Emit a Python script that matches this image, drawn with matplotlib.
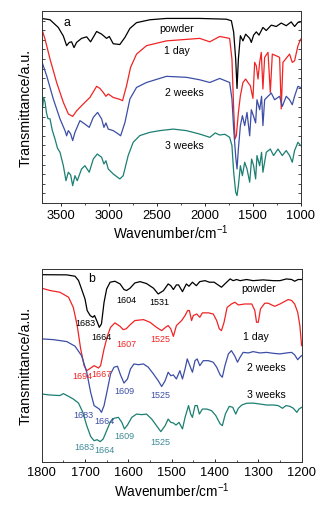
import matplotlib
matplotlib.use('Agg')
import matplotlib.pyplot as plt
from matplotlib.ticker import MultipleLocator, NullFormatter

plt.rcParams['font.family'] = ['Liberation Sans', 'DejaVu Sans']
plt.rcParams['mathtext.fontset'] = 'custom'
plt.rcParams['mathtext.rm'] = 'Liberation Sans'
plt.rcParams['mathtext.default'] = 'regular'

# ---- panel a: full range spectra (wavenumber, transmittance a.u.) ----
a_powder_x = [3700, 3613, 3527, 3474, 3440, 3412, 3388, 3363, 3336, 3284, 3231, 3190, 3127, 3075, 3023, 2995,
              2954, 2885, 2832, 2780, 2711, 2572, 2399, 2052, 1774, 1722, 1698, 1677, 1663, 1649, 1628, 1601,
              1573, 1531, 1514, 1490, 1462, 1434, 1393, 1358, 1306, 1254, 1202, 1150, 1098, 1063, 1028, 1000]
a_powder_y = [96.2, 95.5, 91.5, 87, 82, 83.7, 84, 81, 83.7, 85.8, 86.6, 84, 89.4, 88, 85.8, 86.8,
              83, 82.6, 86.3, 91, 94, 95.5, 96.2, 96.2, 95.8, 95, 89, 75, 59.7, 75, 87.2, 84.5,
              88, 85.8, 83.7, 87.5, 89.2, 87.5, 91.5, 89.9, 92.7, 92, 93.8, 92.4, 94.4, 92, 94.1, 94.4]

a_day_x = [3700, 3665, 3613, 3544, 3474, 3422, 3377, 3336, 3266, 3197, 3127, 3093, 3058, 3030, 3006, 2954,
           2885, 2857, 2815, 2773, 2711, 2607, 2399, 2052, 1947, 1844, 1740, 1716, 1698, 1684, 1670, 1649,
           1628, 1601, 1573, 1549, 1524, 1497, 1479, 1462, 1444, 1427, 1410, 1393, 1375, 1340, 1316, 1295,
           1254, 1219, 1202, 1184, 1115, 1087, 1063, 1028, 1000]
a_day_y = [91, 85.4, 75, 62.8, 52.4, 46.4, 45.1, 48, 51.6, 55, 60.8, 59.7, 57.6, 55.6, 56.8, 55,
           54, 53.3, 61.1, 70.7, 77.6, 82, 84.5, 85.8, 84, 86.8, 85.8, 75, 49, 33.3, 35.1, 47,
           55.9, 62.8, 64.6, 62.8, 61.1, 54.5, 73.3, 71.5, 64.6, 73.3, 78.5, 59.4, 75.9, 78.5, 57.6, 77.6,
           76.7, 75.9, 49, 73.3, 77.6, 73.3, 74.1, 81.9, 85.4]

a_2wk_x = [3700, 3648, 3579, 3509, 3457, 3440, 3422, 3398, 3377, 3353, 3301, 3249, 3204, 3162, 3117, 3075,
           3051, 3030, 3006, 2954, 2902, 2877, 2832, 2780, 2711, 2607, 2399, 2191, 2052, 1947, 1844, 1740,
           1716, 1698, 1677, 1663, 1649, 1628, 1607, 1583, 1559, 1531, 1514, 1490, 1469, 1455, 1427, 1407,
           1393, 1375, 1340, 1306, 1271, 1219, 1191, 1150, 1115, 1087, 1063, 1028, 1000]
a_2wk_y = [74, 66.3, 54.2, 43.8, 37.7, 35, 37.7, 36, 32.5, 36.8, 42.9, 41.1, 39.4, 44.6, 47.2, 43.8,
           39.4, 41.7, 38.5, 37.7, 36, 35, 41.9, 54.2, 60.2, 62.8, 66, 65.5, 64.2, 62.8, 64.9, 62.8,
           54.2, 38.5, 24.3, 17.7, 28.1, 40.3, 45.5, 40.3, 47.2, 35, 48.6, 45.1, 41.7, 53.8, 48.6, 55.6,
           40.3, 53.8, 55.6, 57.3, 53.8, 55.6, 50.3, 55.6, 53.8, 51.2, 55.6, 60.8, 60.2]

a_3wk_x = [3700, 3690, 3680, 3665, 3650, 3635, 3613, 3590, 3561, 3535, 3509, 3474, 3447, 3422, 3398, 3377,
           3353, 3329, 3284, 3249, 3204, 3162, 3120, 3075, 3051, 3030, 3006, 2954, 2885, 2850, 2798, 2746,
           2677, 2572, 2468, 2329, 2191, 2052, 1947, 1890, 1844, 1790, 1740, 1716, 1698, 1677, 1663, 1649,
           1628, 1607, 1583, 1559, 1531, 1511, 1490, 1469, 1455, 1427, 1407, 1393, 1358, 1316, 1282, 1236,
           1191, 1150, 1115, 1087, 1063, 1028, 1000]
a_3wk_y = [56, 50, 55, 52.5, 47, 44, 43.8, 38, 33.3, 28.5, 26.4, 19.4, 11.6, 16, 14.6, 9,
           14.2, 11.6, 17.7, 19.4, 16, 22.9, 25.5, 23.8, 20.3, 22, 17.7, 15.1, 12.5, 14.2, 24.7, 31.6,
           35.1, 36.8, 37.7, 38.5, 37.7, 35.9, 34.2, 36.5, 35.4, 35.8, 34.2, 29.9, 16, 5.6, 3.8, 9,
           19.4, 14.2, 21.2, 17.7, 10.8, 22.9, 19.4, 12.5, 24.7, 19.4, 26.4, 16, 26.4, 28.1, 24.7, 28.1,
           24.7, 27.3, 24.7, 21.2, 27.3, 31.6, 29.9]

# ---- panel b: 1800-1200 region ----
b_powder_x = [1800, 1742, 1723, 1715, 1708, 1700, 1695, 1688, 1682, 1678, 1673, 1667, 1662, 1656, 1650, 1642,
              1631, 1619, 1610, 1604, 1596, 1585, 1573, 1558, 1542, 1531, 1519, 1508, 1502, 1496, 1489, 1484,
              1475, 1466, 1460, 1452, 1443, 1435, 1423, 1413, 1402, 1385, 1373, 1365, 1358, 1350, 1342, 1327,
              1312, 1289, 1265, 1250, 1235, 1223, 1216, 1208, 1200]
b_powder_y = [97, 96.9, 96.2, 94, 89.6, 84.4, 78.4, 75.8, 74.9, 75.8, 73.2, 69.7, 71.5, 82.7, 89.6, 93.1,
              93.6, 92.2, 89.3, 88.8, 90, 92.7, 93.4, 92.4, 90, 87, 88.7, 92.2, 91.3, 89.3, 91.7, 91.7,
              88.2, 92.2, 91, 93.1, 91.3, 93.4, 93.9, 93.1, 93.1, 90.5, 93.1, 94.8, 93.9, 94.5, 93.9, 94.5,
              93.9, 94.3, 93.9, 93.9, 94.8, 94.5, 93.6, 94.5, 94.5]

b_day_x = [1800, 1781, 1758, 1738, 1727, 1718, 1710, 1702, 1696, 1688, 1679, 1669, 1664, 1656, 1648, 1641,
           1631, 1619, 1612, 1605, 1596, 1585, 1565, 1550, 1535, 1523, 1514, 1508, 1502, 1496, 1489, 1477,
           1469, 1463, 1459, 1454, 1450, 1442, 1435, 1429, 1415, 1404, 1396, 1390, 1385, 1379, 1372, 1362,
           1354, 1346, 1331, 1315, 1308, 1304, 1300, 1295, 1285, 1277, 1269, 1262, 1250, 1231, 1223, 1216,
           1209, 1204, 1200]
b_day_y = [90, 88.8, 87.9, 85.3, 80, 70.6, 58.5, 49.8, 47.2, 48.4, 49.8, 48.6, 49.8, 58.5, 65.4, 69.7,
           72, 70.2, 68.5, 68.9, 71, 73.2, 73.7, 72.3, 69.7, 68, 69.7, 70.6, 68.9, 65, 70.6, 73.2,
           75.8, 78.4, 78.4, 73.2, 75.8, 76.6, 74.9, 77.2, 77.2, 76.6, 73.2, 68.9, 68, 72.3, 80, 81.8,
           82.7, 81.3, 81.8, 81.8, 78.4, 72.3, 72.3, 79.2, 82.2, 82.2, 81.3, 80.6, 81.8, 84.1, 83.6, 81.8,
           77.5, 70.6, 60.2]

b_2wk_x = [1800, 1773, 1742, 1723, 1708, 1696, 1687, 1679, 1673, 1667, 1662, 1656, 1648, 1641, 1633, 1625,
           1618, 1610, 1602, 1595, 1587, 1577, 1565, 1554, 1542, 1531, 1523, 1515, 1508, 1502, 1496, 1489,
           1481, 1475, 1469, 1464, 1458, 1452, 1446, 1441, 1435, 1427, 1415, 1404, 1396, 1388, 1383, 1377,
           1369, 1362, 1354, 1348, 1342, 1335, 1323, 1312, 1296, 1281, 1265, 1250, 1235, 1223, 1216, 1209,
           1204, 1200]
b_2wk_y = [63.7, 63.3, 62.3, 59.9, 55, 46.4, 36, 29.1, 28.2, 27.3, 25.6, 29.1, 37.7, 45.5, 49, 49.5,
           45, 40.8, 42.9, 48.1, 50.7, 50.3, 50.7, 49, 45.5, 42, 39, 42, 46.4, 44.6, 45, 42.9,
           47.2, 42.9, 48.1, 53.3, 49.8, 46.4, 52.4, 53.3, 49.8, 52.4, 52.4, 51.6, 49, 45, 43.8, 49.8,
           55.9, 57.6, 54.7, 51.6, 54.2, 56.7, 56.4, 57.1, 56.4, 56.7, 56.2, 55.9, 56.4, 56.7, 55.4, 52.9,
           54.2, 55]

b_3wk_x = [1800, 1781, 1758, 1750, 1738, 1727, 1715, 1705, 1696, 1687, 1679, 1672, 1665, 1658, 1650, 1642,
           1633, 1623, 1615, 1609, 1602, 1592, 1581, 1569, 1558, 1546, 1535, 1525, 1515, 1508, 1502, 1496,
           1490, 1483, 1475, 1469, 1461, 1456, 1452, 1446, 1441, 1436, 1429, 1419, 1408, 1398, 1388, 1383,
           1376, 1367, 1359, 1352, 1346, 1338, 1327, 1312, 1296, 1281, 1265, 1254, 1244, 1236, 1227, 1219,
           1211, 1206, 1200]
b_3wk_y = [35.1, 34.6, 34.3, 35.3, 33.9, 32.5, 30.4, 25.6, 18.7, 13.1, 10.9, 11.4, 10.4, 11.8, 16.1, 20.4,
           22.5, 23, 20.4, 17, 19, 23, 24.7, 24.4, 24.7, 22.1, 18.7, 15.6, 18.7, 22.1, 20.4, 20.1,
           19, 20.4, 17, 23, 29.1, 24.7, 23, 29.1, 29.1, 24.7, 27.3, 27.3, 26.5, 23.9, 19.6, 18.7,
           24.7, 28.7, 28.2, 24.7, 27.7, 29.4, 30.3, 30.4, 29.9, 29.4, 29.4, 29.1, 27.7, 29.1, 28.7, 27.7,
           25.6, 27.3, 28.2]

colors = ['black', '#f02424', '#3c4ea6', '#1b7f72']
names = ['powder', '1 day', '2 weeks', '3 weeks']

# panel a curve labels (x, y)
a_label_x = [2295, 2295, 2208, 2208]
a_label_y = [91, 79.7, 58, 30.4]

# panel b curve labels
b_label_x = [1300, 1305, 1281, 1281]
b_label_y = [90, 65.4, 49, 35.1]

# panel b peak annotations
peak_text = ['1604', '1531', '1683', '1664',
             '1607', '1525', '1694', '1667',
             '1609', '1525', '1683', '1664',
             '1609', '1525', '1683', '1664']
peak_x = [1605, 1529, 1699, 1663,
          1604, 1527, 1706, 1662,
          1608, 1525, 1704, 1656,
          1608, 1525, 1702, 1654]
peak_y = [84, 83, 72, 65,
          61.4, 64, 44.6, 45.8,
          36.9, 34.6, 24.7, 21.3,
          13.5, 10.4, 8, 6.2]
peak_color = ['black'] * 4 + ['#f02424'] * 4 + ['#3c4ea6'] * 4 + ['#3d8a96'] * 4

fig = plt.figure(figsize=(3.29, 5.06), dpi=100)

# ---------------- panel a ----------------
ax1 = fig.add_axes([0.1267, 0.597, 0.787, 0.379])
for xs, ys, c in zip([a_powder_x, a_day_x, a_2wk_x, a_3wk_x],
                     [a_powder_y, a_day_y, a_2wk_y, a_3wk_y], colors):
    ax1.plot(xs, ys, color=c, lw=0.9)
for n, x, y in zip(names, a_label_x, a_label_y):
    ax1.text(x, y, n, fontsize=7.6, ha='center', va='center')
ax1.text(3440, 94.4, 'a', fontsize=8.8, ha='center', va='center')
ax1.set_xlim(3700, 1000)
ax1.set_ylim(0, 100)
ax1.xaxis.set_major_locator(MultipleLocator(500))
ax1.xaxis.set_minor_locator(MultipleLocator(250))
ax1.yaxis.set_major_locator(MultipleLocator(10))
ax1.yaxis.set_minor_locator(MultipleLocator(5))
ax1.yaxis.set_major_formatter(NullFormatter())
ax1.tick_params(axis='x', direction='out', length=2.5, width=0.6, labelsize=9.3, pad=2)
ax1.tick_params(axis='x', which='minor', direction='out', length=1.5, width=0.5)
ax1.tick_params(axis='y', which='both', direction='in', length=2, width=0.5, right=True)
ax1.set_xlabel('Wavenumber/cm$^{-1}$', fontsize=9.8, labelpad=1)
ax1.set_ylabel('Transmittance/a.u.', fontsize=10.3)
ax1.yaxis.set_label_coords(-0.035, 0.5)

# ---------------- panel b ----------------
ax2 = fig.add_axes([0.1267, 0.0856, 0.790, 0.381])
for xs, ys, c in zip([b_powder_x, b_day_x, b_2wk_x, b_3wk_x],
                     [b_powder_y, b_day_y, b_2wk_y, b_3wk_y], colors):
    ax2.plot(xs, ys, color=c, lw=0.9)
for n, x, y in zip(names, b_label_x, b_label_y):
    ax2.text(x, y, n, fontsize=7.6, ha='center', va='center')
ax2.text(1685, 95.2, 'b', fontsize=8.8, ha='center', va='center')
for t, x, y, c in zip(peak_text, peak_x, peak_y, peak_color):
    ax2.text(x, y, t, fontsize=6.5, color=c, ha='center', va='center')
ax2.set_xlim(1800, 1200)
ax2.set_ylim(0, 100)
ax2.xaxis.set_major_locator(MultipleLocator(100))
ax2.xaxis.set_minor_locator(MultipleLocator(50))
ax2.set_yticks([])
ax2.tick_params(axis='x', which='major', direction='in', length=2.5, width=0.6, labelsize=9.3, pad=3)
ax2.tick_params(axis='x', which='minor', direction='in', length=1.5, width=0.5)
ax2.set_xlabel('Wavenumber/cm$^{-1}$', fontsize=9.8, labelpad=2)
ax2.set_ylabel('Transmittance/a.u.', fontsize=10.3)
ax2.yaxis.set_label_coords(-0.035, 0.5)

for ax in (ax1, ax2):
    for s in ax.spines.values():
        s.set_linewidth(0.7)
        s.set_color('#333333')

fig.savefig('out.png', dpi=100)
